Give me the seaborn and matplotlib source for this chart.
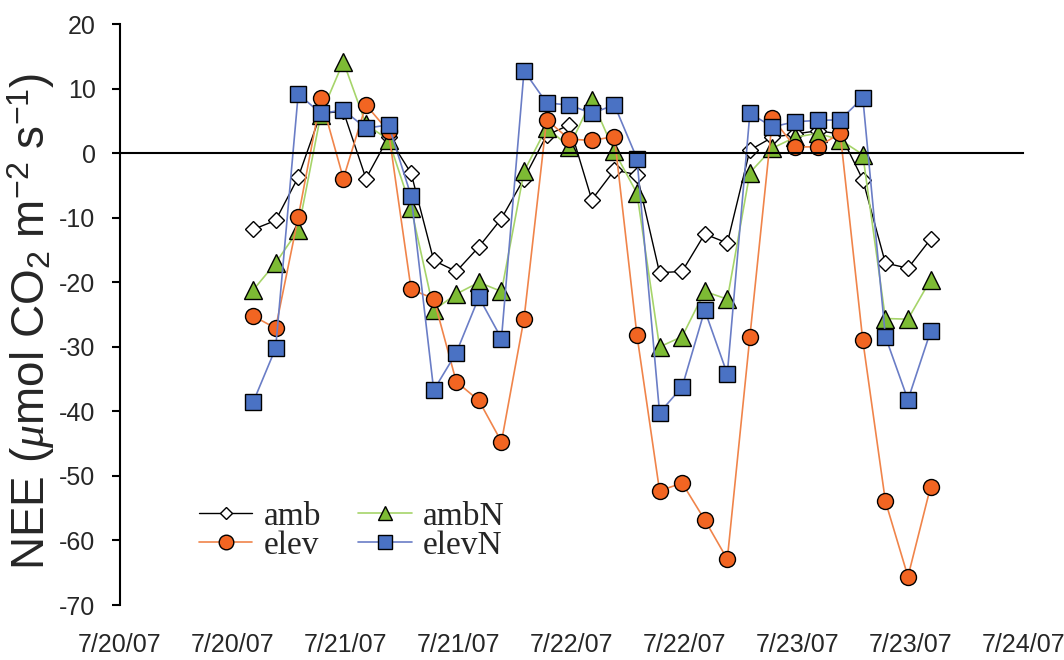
import matplotlib
matplotlib.use("Agg")
import matplotlib.pyplot as plt
import seaborn as sns
import pandas as pd

# ---- data -------------------------------------------------------------
# time in days since 7/20/07 00:00
days = [0.59, 0.69, 0.79, 0.89, 0.99, 1.09, 1.19, 1.29, 1.39, 1.49, 1.59,
        1.69, 1.79, 1.89, 1.99, 2.09, 2.19, 2.29, 2.39, 2.49, 2.59, 2.69,
        2.79, 2.89, 2.99, 3.09, 3.19, 3.29, 3.39, 3.49, 3.59]

amb = [-11.8, -10.4, -3.7, 6.2, 6.5, -3.9, 2.5, -3.1, -16.6, -18.3, -14.5,
       -10.1, -3.9, 2.8, 4.4, -7.2, -2.6, -3.3, -18.5, -18.3, -12.5, -13.9,
       0.5, 2.5, 3.0, 3.5, 3.0, -4.1, -17.0, -17.8, -13.3]

ambN = [-21.2, -17.0, -11.9, 6.0, 14.2, 4.5, 2.1, -8.5, -24.3, -21.8, -20.0,
        -21.4, -2.8, 4.0, 1.0, 8.3, 0.3, -6.2, -30.0, -28.4, -21.4, -22.6,
        -3.0, 0.8, 2.5, 3.1, 2.1, -0.2, -25.6, -25.7, -19.6]

elev = [-25.2, -27.1, -9.9, 8.6, -3.9, 7.5, 3.4, -21.1, -22.5, -35.4, -38.3,
        -44.7, -25.6, 5.2, 2.2, 2.0, 2.6, -28.2, -52.3, -51.1, -56.8, -62.9,
        -28.4, 5.4, 1.0, 1.0, 3.1, -29.0, -53.9, -65.6, -51.7]

elevN = [-38.6, -30.2, 9.2, 6.2, 6.7, 3.9, 4.4, -6.6, -36.7, -30.9, -22.3,
         -28.7, 12.8, 7.8, 7.5, 6.2, 7.5, -0.8, -40.2, -36.2, -24.3, -34.2,
         6.2, 4.1, 4.9, 5.1, 5.2, 8.6, -28.4, -38.2, -27.6]

tick_pos = [0, 0.5, 1, 1.5, 2, 2.5, 3, 3.5, 4]
tick_labels = ["7/20/07", "7/20/07", "7/21/07", "7/21/07", "7/22/07",
               "7/22/07", "7/23/07", "7/23/07", "7/24/07"]
y_ticks = [20, 10, 0, -10, -20, -30, -40, -50, -60, -70]

df = pd.DataFrame({"day": days, "amb": amb, "ambN": ambN,
                   "elev": elev, "elevN": elevN})

# ---- style ------------------------------------------------------------
sns.set_theme(style="white")
plt.rcParams["font.family"] = ["Liberation Sans", "DejaVu Sans"]
plt.rcParams["mathtext.fontset"] = "custom"
plt.rcParams["mathtext.rm"] = "Liberation Sans"
plt.rcParams["mathtext.it"] = "Liberation Serif:italic"

fig = plt.figure(figsize=(10.64, 6.6), dpi=100)
ax = fig.add_axes([0.1126, 0.0833, 0.849, 0.8799])

styles = {
    "amb":   dict(color="black", marker="D", mfc="white", ms=8, lw=1.0),
    "ambN":  dict(color="#a6d46a", marker="^", mfc="#7dbb34", ms=12.5, lw=1.2),
    "elev":  dict(color="#f0844a", marker="o", mfc="#f26522", ms=11.5, lw=1.2),
    "elevN": dict(color="#6a7dc6", marker="s", mfc="#4a72c4", ms=11.5, lw=1.2),
}
for name in ["amb", "ambN", "elev", "elevN"]:
    st = styles[name]
    sns.lineplot(data=df, x="day", y=name, ax=ax, color=st["color"],
                 marker=st["marker"], markerfacecolor=st["mfc"],
                 markeredgecolor="black", markeredgewidth=1.0,
                 markersize=st["ms"], linewidth=st["lw"], label=name,
                 estimator=None, sort=False)

ax.set_xlim(0, 4)
ax.set_ylim(-70, 20)
ax.set_yticks(y_ticks)
ax.set_yticklabels([str(v) for v in y_ticks])

# x axis line crosses at y = 0
for s in ["top", "right"]:
    ax.spines[s].set_visible(False)
ax.spines["bottom"].set_position(("data", 0))
ax.spines["bottom"].set_color("black")
ax.spines["left"].set_color("black")
ax.spines["bottom"].set_linewidth(1.5)
ax.spines["left"].set_linewidth(1.5)
ax.set_xticks(tick_pos)
ax.tick_params(axis="x", direction="inout", length=11, width=1.5,
               color="black", labelbottom=False)
ax.tick_params(axis="y", direction="out", length=5.5, width=1.5,
               color="black", labelsize=18, pad=12, left=True)

sec = ax.secondary_xaxis("bottom")
sec.set_xticks(tick_pos)
sec.set_xticklabels(tick_labels)
sec.spines["bottom"].set_visible(False)
sec.tick_params(axis="x", length=0, labelsize=18, pad=20)

ax.set_xlabel("")
ax.set_ylabel(r"NEE ($\mu$mol CO$_2$ m$^{-2}$ s$^{-1}$)", fontsize=33)
ax.yaxis.set_label_coords(-0.069, 0.488)

handles, labels = ax.get_legend_handles_labels()
order = [labels.index(n) for n in ["amb", "elev", "ambN", "elevN"]]
leg = ax.legend([handles[i] for i in order], [labels[i] for i in order],
                ncol=2, frameon=False, loc="lower left",
                bbox_to_anchor=(0.073, 0.053),
                prop={"family": "Liberation Serif", "size": 24},
                handlelength=1.6, handletextpad=0.35, columnspacing=1.1,
                labelspacing=-0.05, borderaxespad=0.0)
for h in leg.legend_handles:
    if h.get_marker() == "D":
        h.set_markersize(6)
    else:
        h.set_markersize(10.5)

fig.savefig("out.png", dpi=100, facecolor="white")
